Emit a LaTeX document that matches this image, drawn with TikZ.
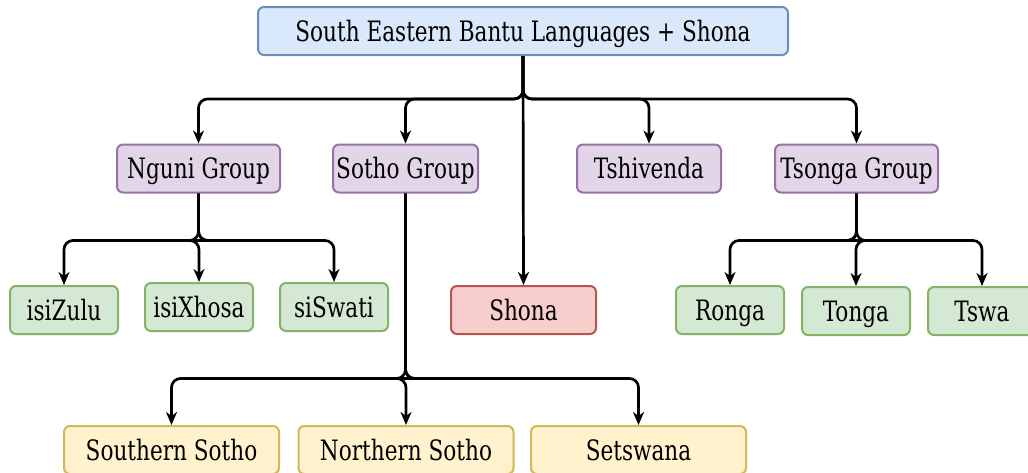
\documentclass[tikz,border=0pt]{standalone}
\usepackage{fontspec}
\usepackage{graphicx}
\setmainfont{DejaVu Serif Condensed}
\usetikzlibrary{arrows.meta}

\definecolor{blueFill}{HTML}{DAE8FC}\definecolor{blueLine}{HTML}{6C8EBF}
\definecolor{purpFill}{HTML}{E1D5E7}\definecolor{purpLine}{HTML}{9673A6}
\definecolor{grnFill}{HTML}{D5E8D4}\definecolor{grnLine}{HTML}{82B366}
\definecolor{redFill}{HTML}{F8CECC}\definecolor{redLine}{HTML}{B85450}
\definecolor{ylwFill}{HTML}{FFF2CC}\definecolor{ylwLine}{HTML}{D6B656}

% labels are set slightly taller than wide, with a fixed baseline in the box
\newcommand\tall[1]{\raisebox{0pt}[24.6pt][4pt]{\scalebox{1}[1.17]{#1}}}

\tikzset{
  box/.style={draw, rounded corners=6pt, line width=2pt, inner sep=0pt,
    minimum height=48pt, font=\fontsize{24}{28}\selectfont},
  rootbox/.style={box, fill=blueFill, draw=blueLine, minimum width=530pt},
  groupbox/.style={box, fill=purpFill, draw=purpLine},
  leafbox/.style={box, fill=grnFill, draw=grnLine, minimum width=108pt},
  shonabox/.style={box, fill=redFill, draw=redLine, minimum width=145pt},
  sothobox/.style={box, fill=ylwFill, draw=ylwLine, minimum width=215pt},
  link/.style={line width=2.7pt, rounded corners=9pt,
    -{Stealth[length=13pt,width=11pt,inset=4pt]}},
}

\begin{document}
\begin{tikzpicture}[x=1pt,y=-1pt]
\useasboundingbox (0,0) rectangle (1028,472);

% root
\node[rootbox] (root) at (523,31) {\tall{South Eastern Bantu Languages + Shona}};

% groups
\node[groupbox, minimum width=163pt] (nguni)  at (198.5,168.5) {\tall{Nguni Group}};
\node[groupbox, minimum width=145pt] (sotho)  at (405.5,168.5) {\tall{Sotho Group}};
\node[groupbox, minimum width=144pt] (venda)  at (649,168.5) {\tall{Tshivenda}};
\node[groupbox, minimum width=163pt] (tsonga) at (856.5,168.5) {\tall{Tsonga Group}};

% Nguni languages
\node[leafbox] (zulu)  at (64,310) {\tall{isiZulu}};
\node[leafbox] (xhosa) at (199,307) {\tall{isiXhosa}};
\node[leafbox] (swati) at (334,307) {\tall{siSwati}};

% Shona
\node[shonabox] (shona) at (523.5,310) {\tall{Shona}};

% Tsonga languages
\node[leafbox] (ronga) at (730,310) {\tall{Ronga}};
\node[leafbox] (tonga) at (856,311) {\tall{Tonga}};
\node[leafbox] (tswa)  at (982,311) {\tall{Tswa}};

% Sotho languages
\node[sothobox] (ssotho) at (171.5,450) {\tall{Southern Sotho}};
\node[sothobox] (nsotho) at (406,450) {\tall{Northern Sotho}};
\node[sothobox] (tswana) at (638.5,450) {\tall{Setswana}};

% root branches
\foreach \c in {nguni,sotho,venda,tsonga}
  \draw[link] (root.south) |- ([yshift=-43pt]root.south) -| (\c.north);
\draw[link] (root.south) -- (shona.north);

% group branches
\foreach \c in {zulu,xhosa,swati}
  \draw[link] (nguni.south) |- ([yshift=-47pt]nguni.south) -| (\c.north);
\foreach \c in {ronga,tonga,tswa}
  \draw[link] (tsonga.south) |- ([yshift=-47pt]tsonga.south) -| (\c.north);
\foreach \c in {ssotho,nsotho,tswana}
  \draw[link] (sotho.south) |- ([yshift=-185pt]sotho.south) -| (\c.north);
\end{tikzpicture}
\end{document}
